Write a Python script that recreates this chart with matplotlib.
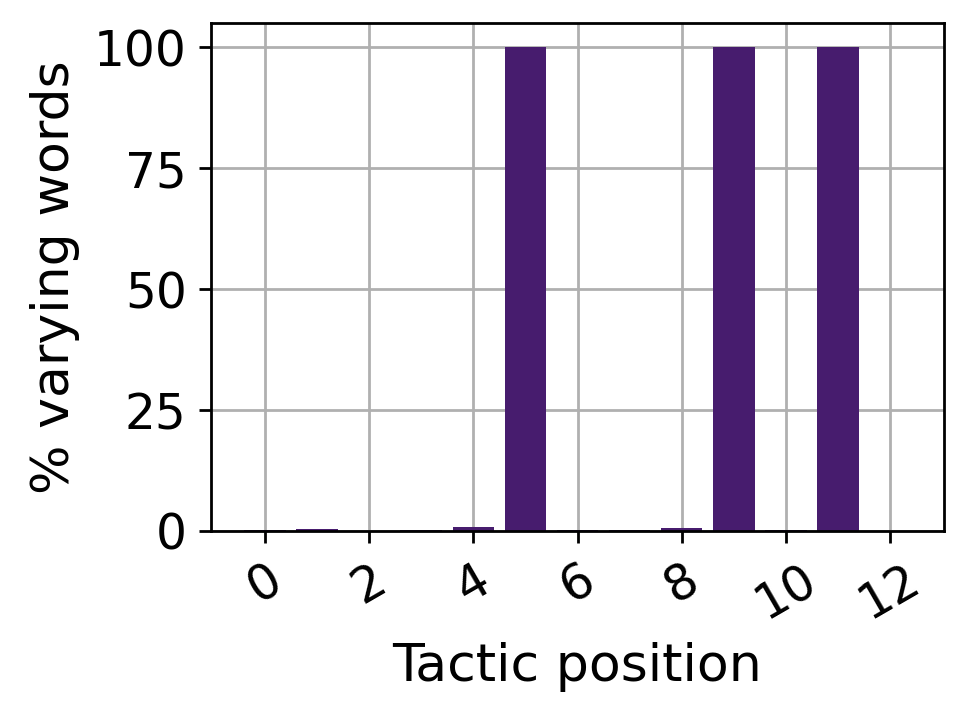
import matplotlib
matplotlib.use("Agg")
import matplotlib.pyplot as plt

positions = list(range(13))
values = [0.2, 0.4, 0.0, 0.2, 0.8, 100, 0.2, 0.3, 0.6, 100, 0.3, 100, 0.0]
xticks = [0, 2, 4, 6, 8, 10, 12]
yticks = [0, 25, 50, 75, 100]

DPI = 250
plt.rcParams['font.size'] = 14
fig = plt.figure(figsize=(969/DPI, 721/DPI), dpi=DPI)
ax = fig.add_axes([211/969, 1 - 531/721, (944 - 211)/969, (531 - 23)/721])
ax.bar(positions, values, width=0.8, color='#471c6e', zorder=2)
ax.set_xticks(xticks)
ax.set_yticks(yticks)
ax.tick_params(axis='both', labelsize=14)
ax.tick_params(axis='x', labelrotation=30)
ax.grid(True, color='#b0b0b0', zorder=0)
ax.set_axisbelow(True)
ax.set_xlabel('Tactic position', fontsize=15)
ax.set_ylabel('% varying words', fontsize=15)
fig.savefig('out.png', dpi=DPI)
